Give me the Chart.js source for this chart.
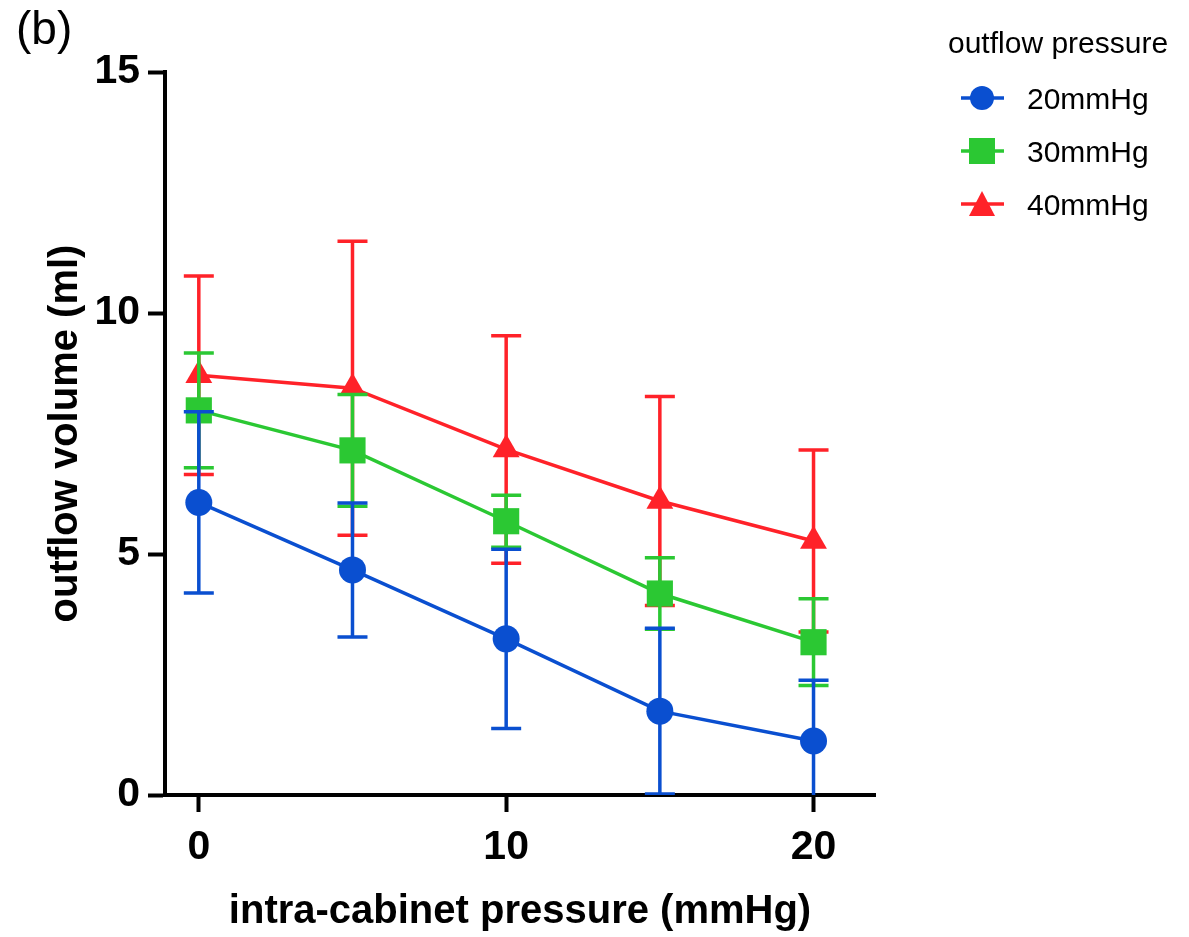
<!DOCTYPE html>
<html>
<head>
<meta charset="utf-8">
<script src="https://cdn.jsdelivr.net/npm/chart.js@4.4.1/dist/chart.umd.min.js"></script>
<style>
body { margin: 0; background: #fff; }
</style>
</head>
<body>
<canvas id="outflowChart" width="1189" height="937"></canvas>
<script>
// intra-cabinet pressure (mmHg)
const pressures = [0, 5, 10, 15, 20];

// outflow volume (ml), mean and error per outflow pressure
const mean20 = [6.07, 4.67, 3.24, 1.74, 1.12];
const err20  = [1.88, 1.39, 1.86, 1.72, 1.26];
const mean30 = [7.98, 7.15, 5.68, 4.18, 3.17];
const err30  = [1.19, 1.16, 0.54, 0.74, 0.90];
const mean40 = [8.71, 8.44, 7.17, 6.10, 5.27];
const err40  = [2.06, 3.05, 2.36, 2.17, 1.89];

const seriesNames = ["20mmHg", "30mmHg", "40mmHg"];
const xTicks = [0, 10, 20];
const yTicks = [0, 5, 10, 15];

const BLUE = "#0a4fd0", GREEN = "#2bc833", RED = "#ff2229";
const FONT = "'Liberation Sans', Arial, sans-serif";

function points(means){
    return pressures.map((p, i) => ({x: p, y: means[i]}));
}

function series(label, means, errs, color, style, radius){
    return {
        label: label,
        data: points(means),
        errors: errs,
        borderColor: color,
        backgroundColor: color,
        borderWidth: 3.5,
        tension: 0,
        fill: false,
        pointStyle: style,
        pointRadius: radius,
        pointHoverRadius: radius,
        pointBorderWidth: 0,
        pointBackgroundColor: color
    };
}

// vertical error bars with caps, drawn just under each series
const errorBars = {
    id: "errorBars",
    beforeDatasetDraw(chart, args){
        const ds = chart.data.datasets[args.index];
        const {ctx, chartArea, scales} = chart;
        ctx.save();
        ctx.beginPath();
        ctx.rect(chartArea.left, chartArea.top, chartArea.width, chartArea.height);
        ctx.clip();
        ctx.strokeStyle = ds.borderColor;
        ctx.lineWidth = 3.5;
        ds.data.forEach((p, i) => {
            const x = scales.x.getPixelForValue(p.x);
            const hi = scales.y.getPixelForValue(p.y + ds.errors[i]);
            const lo = scales.y.getPixelForValue(p.y - ds.errors[i]);
            ctx.beginPath();
            ctx.moveTo(x, hi); ctx.lineTo(x, lo);
            ctx.moveTo(x - 15, hi); ctx.lineTo(x + 15, hi);
            ctx.moveTo(x - 15, lo); ctx.lineTo(x + 15, lo);
            ctx.stroke();
        });
        ctx.restore();
    }
};

// panel letter and the legend on the right
const sideLegend = {
    id: "sideLegend",
    afterDraw(chart){
        const ctx = chart.ctx;
        ctx.save();
        ctx.fillStyle = "#000";
        ctx.textBaseline = "alphabetic";
        ctx.font = "46px " + FONT;
        ctx.fillText("(b)", 16, 44);

        ctx.font = "30px " + FONT;
        ctx.fillText("outflow pressure", 948, 53);

        chart.data.datasets.forEach((ds, i) => {
            const y = 98 + i * 53;
            const x = 982;
            ctx.strokeStyle = ds.borderColor;
            ctx.lineWidth = 3.5;
            ctx.beginPath();
            ctx.moveTo(961, y); ctx.lineTo(1004, y);
            ctx.stroke();

            ctx.fillStyle = ds.backgroundColor;
            ctx.beginPath();
            if(ds.pointStyle === "circle"){
                ctx.arc(x, y, 12, 0, Math.PI * 2);
            }else if(ds.pointStyle === "rect"){
                ctx.rect(x - 13, y - 13, 26, 26);
            }else{
                ctx.moveTo(x, y - 13);
                ctx.lineTo(x + 13, y + 12);
                ctx.lineTo(x - 13, y + 12);
                ctx.closePath();
            }
            ctx.fill();

            ctx.fillStyle = "#000";
            ctx.fillText(ds.label, 1027, y + 11);
        });
        ctx.restore();
    }
};

new Chart(document.getElementById("outflowChart"), {
    type: "line",
    data: {
        datasets: [
            series(seriesNames[0], mean20, err20, BLUE, "circle", 13.5),
            series(seriesNames[1], mean30, err30, GREEN, "rect", 18.5),
            series(seriesNames[2], mean40, err40, RED, "triangle", 15.5)
        ]
    },
    plugins: [errorBars, sideLegend],
    options: {
        responsive: false,
        animation: false,
        layout: {
            padding: {top: 72, right: 314, bottom: 0, left: 0}
        },
        plugins: {
            legend: {display: false},
            tooltip: {enabled: false}
        },
        scales: {
            x: {
                type: "linear",
                min: -1.1,
                max: 22,
                afterBuildTicks: s => { s.ticks = xTicks.map(v => ({value: v})); },
                afterFit: s => { s.height = 142; },
                border: {display: true, color: "#000", width: 4},
                grid: {drawOnChartArea: false, drawTicks: true, tickLength: 17, tickWidth: 4, tickColor: "#000"},
                ticks: {color: "#000", padding: 11, font: {family: FONT, size: 41, weight: "bold"}},
                title: {
                    display: true,
                    text: "intra-cabinet pressure (mmHg)",
                    color: "#000",
                    padding: {top: 0, bottom: 1},
                    font: {family: FONT, size: 40, weight: "bold"}
                }
            },
            y: {
                min: 0,
                max: 15,
                afterBuildTicks: s => { s.ticks = yTicks.map(v => ({value: v})); },
                afterFit: s => { s.width = 165; },
                border: {display: true, color: "#000", width: 4},
                grid: {drawOnChartArea: false, drawTicks: true, tickLength: 17, tickWidth: 4, tickColor: "#000"},
                ticks: {color: "#000", padding: 8, font: {family: FONT, size: 41, weight: "bold"}},
                title: {
                    display: true,
                    text: "outflow volume (ml)",
                    color: "#000",
                    padding: {top: 42, bottom: 0},
                    font: {family: FONT, size: 40, weight: "bold"}
                }
            }
        }
    }
});
</script>
</body>
</html>
